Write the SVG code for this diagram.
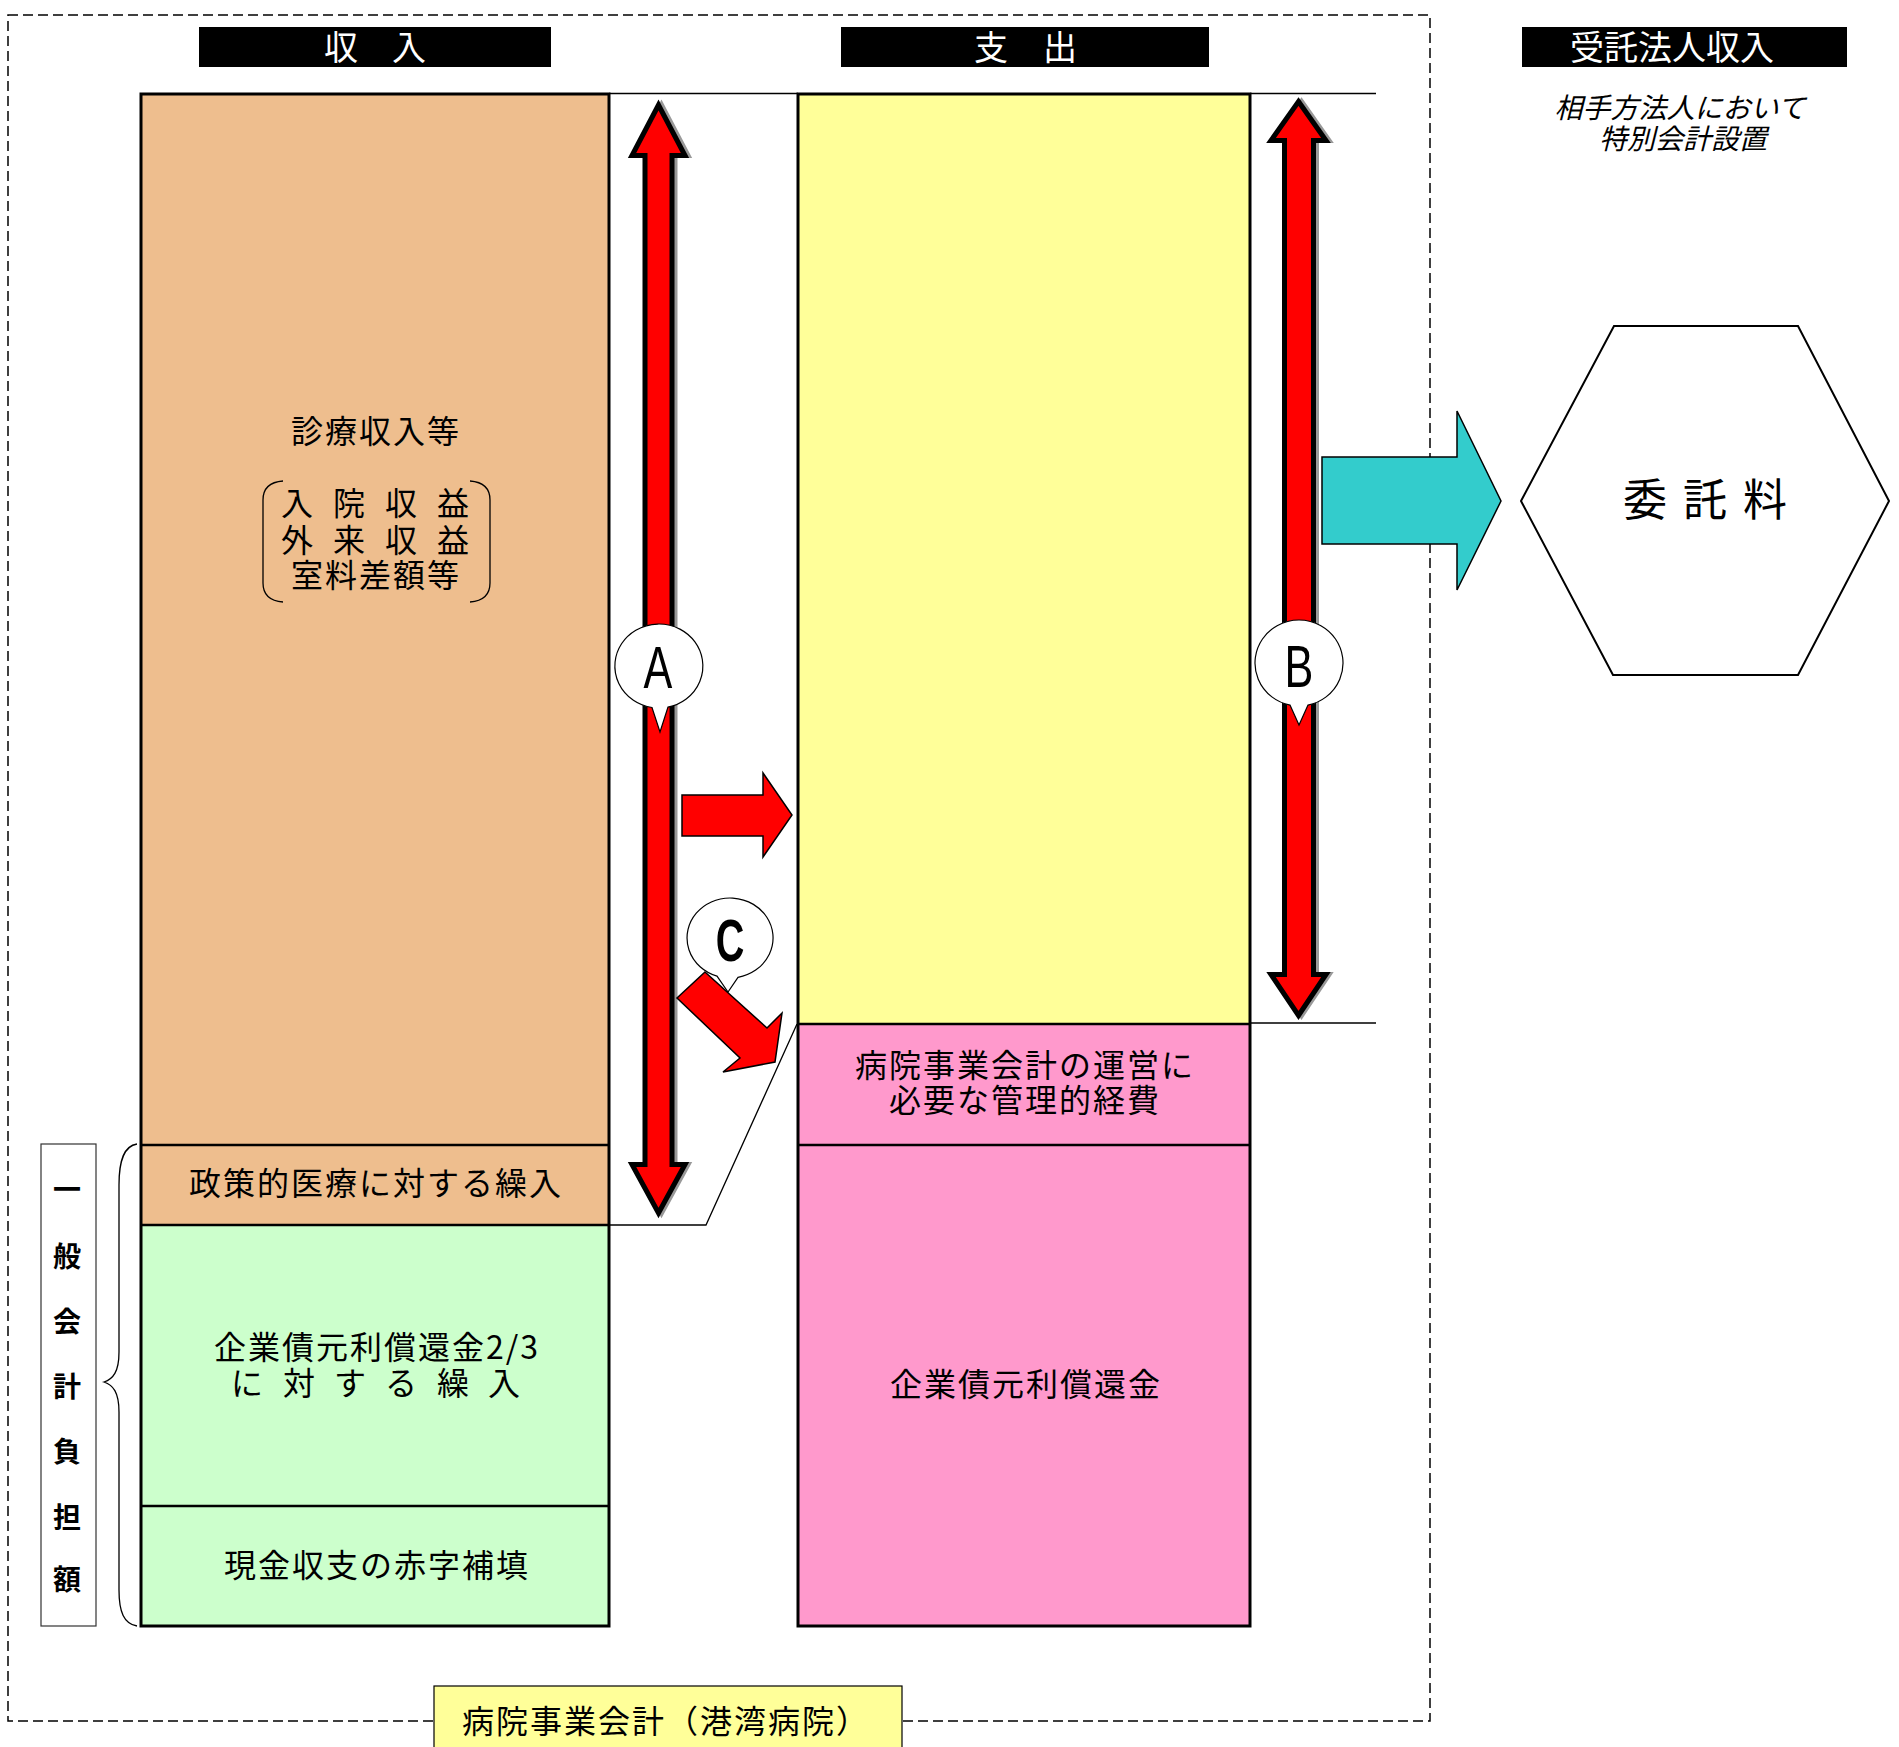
<svg xmlns="http://www.w3.org/2000/svg" width="1899" height="1747" viewBox="0 0 1899 1747">
<style>
.t{font-family:"Noto Sans CJK JP","Noto Sans CJK SC",sans-serif;font-size:32px;letter-spacing:2px;fill:#000;text-anchor:middle;dominant-baseline:central}
.hd{fill:#fff;font-size:34px;letter-spacing:0}
.it{font-size:28px;font-style:italic;letter-spacing:0}
.vb{font-size:28px;font-weight:bold;letter-spacing:0}
.lt{font-family:"Liberation Sans",Arial,sans-serif;font-size:60px;fill:#000;text-anchor:middle}
.box{stroke:#000;stroke-width:3}
.div{stroke:#000;stroke-width:2.5}
.red{fill:#ff0000;stroke:#000;stroke-width:5;stroke-linejoin:miter}
.shadow{fill:#999;stroke:#999;stroke-width:5}
.redthin{fill:#ff0000;stroke:#000;stroke-width:1.5;stroke-linejoin:miter}
.bub{fill:#fff;stroke:#000;stroke-width:1.2}
.thin{fill:none;stroke:#000;stroke-width:1.3}
</style>
<rect x="0" y="0" width="1899" height="1747" fill="#fff"/>
<g id="frame">
<rect x="8" y="15" width="1422" height="1706" fill="none" stroke="#000" stroke-width="1.5" stroke-dasharray="10 5"/>
</g>
<g id="header-income">
<rect x="199" y="27" width="352" height="40" fill="#000"/>
<text class="t hd" x="375" y="45">収　入</text>
</g>
<g id="header-expense">
<rect x="841" y="27" width="368" height="40" fill="#000"/>
<text class="t hd" x="991 1025 1060" y="45">支　出</text>
</g>
<g id="header-trustee">
<rect x="1522" y="27" width="325" height="40" fill="#000"/>
<text class="t hd" x="1672" y="45">受託法人収入</text>
<text class="t it"><tspan x="1680" y="106">相手方法人において</tspan><tspan x="1683" y="137">特別会計設置</tspan></text>
</g>
<g id="connectors">
<path class="thin" d="M609,93.5 L798,93.5 M1250,93.5 L1376,93.5 M1250,1023 L1376,1023"/>
<path class="thin" d="M609,1225 L706,1225 L797,1024"/>
</g>
<g id="income-medical">
<rect x="141" y="94" width="468" height="1051" fill="#eebe8e"/>
<text class="t" x="376" y="429">診療収入等</text>
<text class="t"><tspan x="298 324 350 376 402 428 454" y="501">入 院 収 益</tspan><tspan x="298 324 350 376 402 428 454" y="538">外 来 収 益</tspan><tspan x="376" y="573">室料差額等</tspan></text>
<path class="thin" d="M283,481 C270,482 263,488 263,500 L263,583 C263,595 270,601 283,602 M470,481 C483,482 490,488 490,500 L490,583 C490,595 483,601 470,602"/>
</g>
<g id="income-policy">
<rect x="141" y="1145" width="468" height="80" fill="#eebe8e"/>
<text class="t" x="376" y="1181">政策的医療に対する繰入</text>
</g>
<g id="income-bond">
<rect x="141" y="1225" width="468" height="281" fill="#ccffcc"/>
<text class="t"><tspan x="377" y="1345">企業債元利償還金2/3</tspan><tspan x="248 274 300 325 351 377 402 428 454 480 505" y="1381">に 対 す る 繰 入</tspan></text>
</g>
<g id="income-deficit">
<rect x="141" y="1506" width="468" height="120" fill="#ccffcc"/>
<text class="t" x="377" y="1563">現金収支の赤字補填</text>
</g>
<g id="income-frame">
<line class="div" x1="141" y1="1145" x2="609" y2="1145"/>
<line class="div" x1="141" y1="1225" x2="609" y2="1225"/>
<line class="div" x1="141" y1="1506" x2="609" y2="1506"/>
<rect class="box" x="141" y="94" width="468" height="1532" fill="none"/>
</g>
<g id="expense-main">
<rect x="798" y="94" width="452" height="930" fill="#ffff99"/>
</g>
<g id="expense-admin">
<rect x="798" y="1024" width="452" height="121" fill="#ff99cc"/>
<text class="t"><tspan x="1025" y="1063">病院事業会計の運営に</tspan><tspan x="1025" y="1098">必要な管理的経費</tspan></text>
</g>
<g id="expense-bond">
<rect x="798" y="1145" width="452" height="481" fill="#ff99cc"/>
<text class="t" x="1026" y="1382">企業債元利償還金</text>
</g>
<g id="expense-frame">
<line class="div" x1="798" y1="1024" x2="1250" y2="1024"/>
<line class="div" x1="798" y1="1145" x2="1250" y2="1145"/>
<rect class="box" x="798" y="94" width="452" height="1532" fill="none"/>
</g>
<g id="general-account-label">
<rect x="41" y="1144" width="55" height="482" fill="#fff" stroke="#333" stroke-width="1.2"/>
<text class="t vb"><tspan x="67" y="1188">一</tspan><tspan x="67" y="1255">般</tspan><tspan x="67" y="1320">会</tspan><tspan x="67" y="1385">計</tspan><tspan x="67" y="1450">負</tspan><tspan x="67" y="1516">担</tspan><tspan x="67" y="1578">額</tspan></text>
<path class="thin" d="M137,1144 C124,1146 119,1160 119,1185 L119,1352 C119,1372 113,1379 104,1382 C113,1385 119,1392 119,1412 L119,1590 C119,1612 124,1624 137,1626"/>
</g>
<g id="arrows">
<polygon class="shadow" transform="translate(3 0)" points="658.5,105 685,155.5 672,155.5 672,1164.5 685,1164.5 658.5,1213 632,1164.5 645,1164.5 645,155.5 632,155.5"/>
<polygon class="red" points="658.5,105 685,155.5 672,155.5 672,1164.5 685,1164.5 658.5,1213 632,1164.5 645,1164.5 645,155.5 632,155.5"/>
<polygon class="shadow" transform="translate(3 0)" points="1298.5,101.5 1326,140.5 1313.5,140.5 1313.5,974.5 1326,974.5 1298.5,1015.5 1271,974.5 1284.5,974.5 1284.5,140.5 1271,140.5"/>
<polygon class="red" points="1298.5,101.5 1326,140.5 1313.5,140.5 1313.5,974.5 1326,974.5 1298.5,1015.5 1271,974.5 1284.5,974.5 1284.5,140.5 1271,140.5"/>
<polygon class="redthin" points="682,795 763,795 763,773 792,815 763,857 763,836 682,836"/>
<polygon fill="#33cccc" stroke="#000" stroke-width="1.5" points="1322,457 1457,457 1457,411 1501,501 1457,590 1457,544 1322,544"/>
</g>
<g id="bubble-A">
<path class="bub" d="M668,707.1 A44,42 0 1 0 652,707.5 L660,732 Z"/>
<text class="lt" transform="translate(658 688) scale(0.72 1)">A</text>
</g>
<g id="bubble-B">
<path class="bub" d="M1308,705.1 A44,43 0 1 0 1290,705.1 L1299,725 Z"/>
<text class="lt" transform="translate(1299 687) scale(0.72 1)">B</text>
</g>
<g id="bubble-C">
<path class="bub" d="M738,977.3 A43,40 0 1 0 717,976.1 L728,992 Z"/>
<text class="lt" font-weight="bold" transform="translate(730 961) scale(0.66 1)">C</text>
</g>
<g id="arrow-C">
<polygon class="redthin" points="705,972 767,1028 782,1013 775,1062 723,1072 740,1058 677,998"/>
</g>
<g id="trustee-fee">
<polygon fill="#fff" stroke="#000" stroke-width="2" points="1614,326 1798,326 1889,501 1798,675 1613,675 1521,501"/>
<text class="t" x="1645 1705 1765" y="497" style="font-size:44px;letter-spacing:0">委託料</text>
</g>
<g id="hospital-account-label">
<rect x="434" y="1686" width="468" height="80" fill="#ffff99" stroke="#000" stroke-width="1.2"/>
<text class="t" x="666" y="1719">病院事業会計（港湾病院）</text>
</g>
</svg>
